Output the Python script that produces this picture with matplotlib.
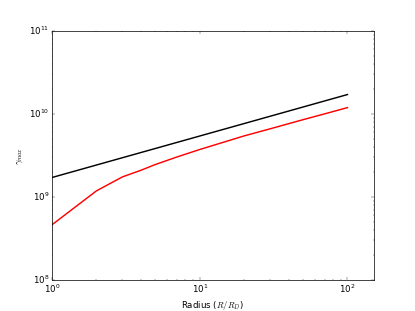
import matplotlib
matplotlib.use("Agg")
import matplotlib.pyplot as plt
import numpy as np

# radius in units of R_D
r_black = [1, 100]
gamma_black = [1.71e9, 1.71e10]

r_red = [1, 2, 3, 4, 5, 7, 10, 20, 30, 50, 70, 100]
gamma_red = [4.6e8, 1.18e9, 1.74e9, 2.09e9, 2.45e9, 3.02e9, 3.72e9,
             5.43e9, 6.61e9, 8.51e9, 1.0e10, 1.19e10]

plt.style.use('classic')
fig = plt.figure(figsize=(8, 6), dpi=415 / 8.0)
ax = fig.add_subplot(111)

ax.plot(r_black, gamma_black, 'k-', lw=2)
ax.plot(r_red, gamma_red, 'r-', lw=2)

ax.set_xscale('log')
ax.set_yscale('log')
ax.set_xlim(1, 150)
ax.set_ylim(1e8, 1e11)
ax.set_xlabel(r'Radius ($R/R_D$)')
ax.set_ylabel(r'$\gamma_{max}$')

fig.savefig('out.png', dpi=415 / 8.0)
